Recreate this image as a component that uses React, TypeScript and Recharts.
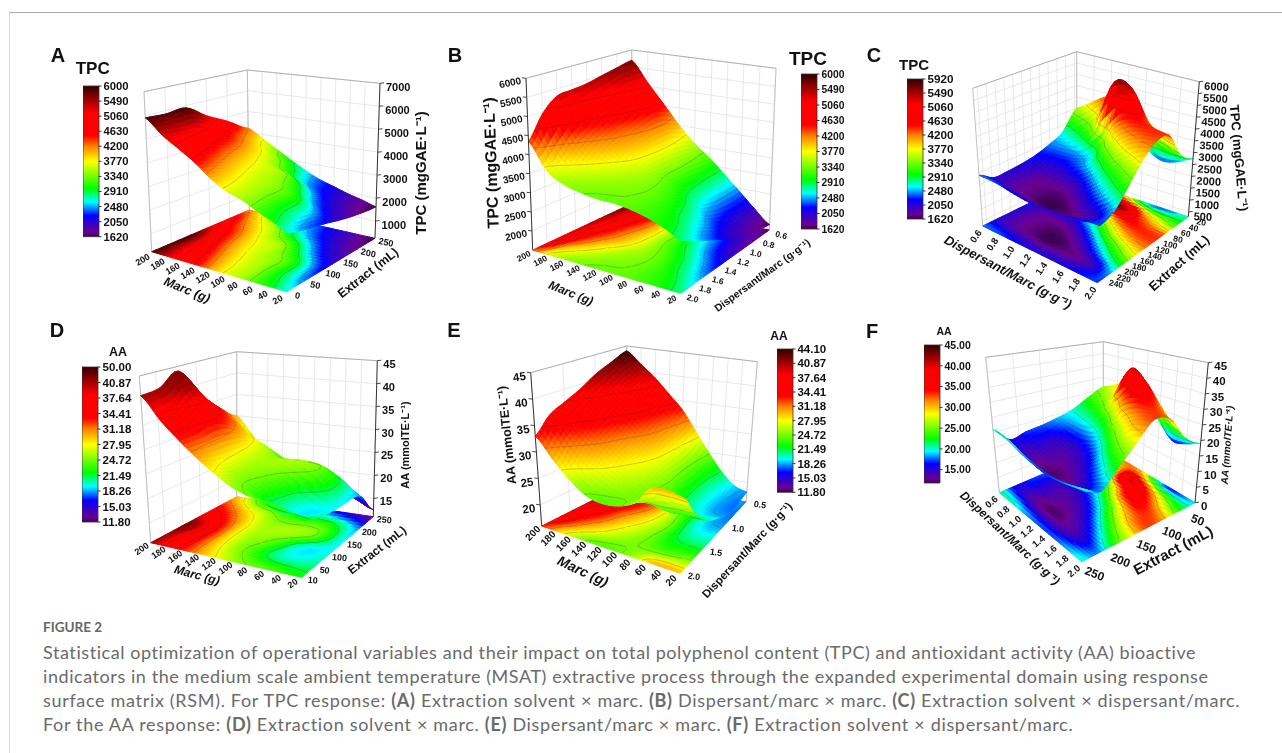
import { ScatterChart, Scatter, XAxis, YAxis, BarChart, Bar } from "recharts";

type Pt = [number, number];
type Box = { L: Pt; F: Pt; R: Pt; B: Pt; tL: Pt; tF: Pt; tR: Pt; tB: Pt };

// ---- values (rows run along Extract / Dispersant, columns along the first axis)
const surfaceA = [
  [5900, 5350, 4950, 4550, 4050, 3700, 3500, 3200, 2950, 2650],
  [5850, 5250, 4800, 4300, 3900, 3650, 3450, 3100, 2750, 2400],
  [5900, 5150, 4500, 4050, 3750, 3550, 3400, 3100, 2600, 2200],
  [5300, 4700, 4250, 3850, 3600, 3450, 3000, 2500, 2150, 1950],
  [4800, 4250, 3850, 3550, 3150, 2650, 2350, 2100, 1900, 1750],
  [4200, 3800, 3400, 3000, 2650, 2350, 2150, 1950, 1800, 1620],
];
const surfaceB = [
  [4350, 3700, 3450, 3350, 3300, 3300, 3250, 3150, 3000, 2800],
  [4950, 4050, 3700, 3500, 3400, 3350, 3250, 3100, 2900, 2600],
  [5300, 4450, 4000, 3700, 3500, 3400, 3250, 3000, 2700, 2400],
  [5350, 4650, 4250, 3950, 3650, 3400, 3150, 2850, 2500, 2200],
  [5400, 4850, 4400, 4050, 3700, 3300, 2950, 2600, 2250, 2000],
  [5500, 5000, 4550, 4150, 3700, 3300, 2850, 2450, 2100, 1850],
  [5600, 5150, 4700, 4150, 3650, 3250, 2800, 2400, 2000, 1750],
  [5700, 5100, 4550, 4000, 3550, 3200, 2800, 2400, 2000, 1650],
];
const surfaceC = [
  [2400, 2350, 2200, 2100, 2100, 2150, 2250, 2300],
  [2050, 1850, 1750, 1650, 1700, 1750, 2000, 2500],
  [2050, 1800, 1700, 1650, 1800, 2200, 2700, 3100],
  [2100, 1850, 1800, 1900, 2300, 2900, 3400, 3800],
  [2200, 2100, 2200, 2500, 3100, 3800, 4200, 4300],
  [2400, 2450, 2600, 3100, 4200, 4500, 4400, 4300],
  [2700, 3000, 3700, 5500, 5400, 4200, 3600, 3200],
  [3500, 4000, 4400, 4000, 2800, 2300, 2400, 2750],
];
const surfaceD = [
  [41, 36.5, 33, 30, 27.5, 25.5, 24.5, 24, 23, 22],
  [41.5, 37, 33, 29, 26, 24, 21.5, 20, 20, 20.5],
  [44, 39, 33.5, 28.5, 26, 25, 23, 20, 19, 19.5],
  [38, 35, 31.5, 28, 26, 26, 26, 25, 22, 19],
  [33.5, 31, 28, 26, 24, 23, 23, 22.5, 20.5, 18],
  [30, 26, 22, 20.5, 19.5, 18.5, 17, 15.5, 14, 12.5],
];
const surfaceE = [
  [33, 29.5, 26.5, 24.5, 24, 24.5, 26, 29.5, 30, 29.5],
  [36, 32.5, 29.5, 27.5, 26, 25, 24.5, 24, 24.5, 25],
  [37.5, 34.5, 32, 29.5, 27.5, 26, 24, 22, 21.5, 21.5],
  [39, 36.5, 33.5, 31, 29, 27, 24.5, 21, 19.5, 19.5],
  [41, 38, 35.5, 33, 30.5, 27.5, 24, 20.5, 18.5, 18],
  [42.5, 40, 37, 34, 31.5, 28, 24, 20.5, 18.5, 17.5],
  [44, 41.5, 39, 36, 33, 29, 25, 21.5, 19, 18],
];
const surfaceF = [
  [21, 20.5, 19, 18, 17.5, 18, 19, 20],
  [16, 14.5, 13, 12.5, 13, 14, 16, 18],
  [17, 15, 13.5, 13, 14, 16.5, 20, 23],
  [17.5, 15, 14, 15, 17.5, 22, 26, 28],
  [18.5, 17.5, 17.5, 19.5, 24, 29, 32, 33],
  [20, 21, 23, 27, 34, 35, 33, 31],
  [23, 25, 29, 40, 37, 31, 26, 23],
  [26, 29, 32, 29, 21, 16, 17, 19],
];

const levelsTPC = [1620, 2050, 2480, 2910, 3340, 3770, 4200, 4630, 5060, 5490, 6000];
const levelsTPCc = [1620, 2050, 2480, 2910, 3340, 3770, 4200, 4630, 5060, 5490, 5920];
const levelsAAd = [11.8, 15.03, 18.26, 21.49, 24.72, 27.95, 31.18, 34.41, 37.64, 40.87, 50];
const levelsAAe = [11.8, 15.03, 18.26, 21.49, 24.72, 27.95, 31.18, 34.41, 37.64, 40.87, 44.1];
const levelsAAf = [11.8, 45];
const contoursAAf = [15, 20, 25, 30, 35, 40];
const legendTicksF = [15, 20, 25, 30, 35, 40, 45];

const marcTicks = [200, 180, 160, 140, 120, 100, 80, 60, 40, 20];
const extractTicksA = [0, 50, 100, 150, 200, 250];
const extractTicksC = [240, 220, 200, 180, 160, 140, 120, 100, 80, 60, 40, 20];
const extractTicksD = [10, 50, 100, 150, 200, 250];
const extractTicksF = [250, 200, 150, 100, 50];
const dispersantTicks = [2.0, 1.8, 1.6, 1.4, 1.2, 1.0, 0.8, 0.6];
const dispersantTicksE = [2.0, 1.5, 1.0, 0.5];
const tpcTicksA = [1000, 2000, 3000, 4000, 5000, 6000, 7000];
const tpcTicksB = [2000, 2500, 3000, 3500, 4000, 4500, 5000, 5500, 6000];
const tpcTicksC = [500, 1000, 1500, 2000, 2500, 3000, 3500, 4000, 4500, 5000, 5500, 6000];
const aaTicksD = [15, 20, 25, 30, 35, 40, 45];
const aaTicksE = [20, 25, 30, 35, 40, 45];
const aaTicksF = [0, 5, 10, 15, 20, 25, 30, 35, 40, 45];

const captionLines = [
  "Statistical optimization of operational variables and their impact on total polyphenol content (TPC) and antioxidant activity (AA) bioactive",
  "indicators in the medium scale ambient temperature (MSAT) extractive process through the expanded experimental domain using response",
];

// ---- rainbow of the colour bars
const RAINBOW: [number, number[]][] = [
  [0, [58, 0, 80]],
  [0.03, [106, 0, 144]],
  [0.14, [0, 0, 255]],
  [0.23, [0, 255, 255]],
  [0.32, [0, 255, 0]],
  [0.5, [255, 255, 0]],
  [0.6, [255, 128, 0]],
  [0.67, [255, 0, 0]],
  [0.82, [255, 0, 0]],
  [0.92, [144, 0, 0]],
  [1, [48, 0, 0]],
];

const rainbow = (t: number) => {
  const x = Math.max(0, Math.min(1, t));
  for (let i = 1; i < RAINBOW.length; i++) {
    if (x <= RAINBOW[i][0]) {
      const [a, ca] = RAINBOW[i - 1];
      const [b, cb] = RAINBOW[i];
      const f = (x - a) / (b - a);
      return `rgb(${ca.map((c, k) => Math.round(c + (cb[k] - c) * f)).join(",")})`;
    }
  }
  return "rgb(48,0,0)";
};

const levelToT = (z: number, levels: number[]) => {
  if (z <= levels[0]) return 0;
  for (let i = 1; i < levels.length; i++) {
    if (z <= levels[i]) return (i - 1 + (z - levels[i - 1]) / (levels[i] - levels[i - 1])) / (levels.length - 1);
  }
  return 1;
};

const FONT = "'Liberation Sans', Arial, sans-serif";

type Label = { text: string; x: number; y: number; rot: number; size: number; italic?: boolean };

type Panel = {
  id: string;
  region: [number, number, number, number];
  box: Box;
  grid: number[][];
  levels: number[];
  contours: number[];
  zDomain: [number, number];
  zTicks: number[];
  zSide: "L" | "R";
  zLabel: { dx: number; dy: number; rot: number; size: number };
  uDomain: [number, number];
  uTicks: number[];
  uFmt: (v: number) => string;
  uLabel: { dx: number; dy: number; rot: number; size: number };
  vDomain: [number, number];
  vTicks: number[];
  vFmt: (v: number) => string;
  vLabel: { dx: number; dy: number; rot: number; size: number };
  labels: Label[];
  bar: { x: number; y: number; w: number; h: number; size: number; labels: string[]; values: number[]; domain: [number, number] };
};

const idx = levelsTPC.map((_, i) => i);
const int = (v: number) => String(v);
const one = (v: number) => v.toFixed(1);

const panels: Panel[] = [
  {
    id: "A",
    region: [40, 30, 400, 290],
    box: { L: [151.7, 251.7], F: [286.7, 291.7], R: [375, 238.3], B: [249.3, 210], tL: [144, 91.7], tF: [292, 128], tR: [380, 83.3], tB: [247.3, 70] },
    grid: surfaceA, levels: levelsTPC, contours: levelsTPC.slice(1, -1),
    zDomain: [250, 7000], zTicks: tpcTicksA, zSide: "R", zLabel: { dx: 6, dy: 4, rot: 0, size: 11 },
    uDomain: [200, 20], uTicks: marcTicks, uFmt: int, uLabel: { dx: -9, dy: 8, rot: -30, size: 9 },
    vDomain: [0, 250], vTicks: extractTicksA, vFmt: int, vLabel: { dx: 11, dy: 4, rot: 12, size: 9 },
    labels: [
      { text: "A", x: 58, y: 55, rot: 0, size: 20 },
      { text: "TPC", x: 92.7, y: 68, rot: 0, size: 17 },
      { text: "Marc (g)", x: 187, y: 290, rot: 22, size: 12.5, italic: true },
      { text: "Extract (mL)", x: 368, y: 273, rot: -38, size: 12.5 },
      { text: "TPC (mgGAE·L⁻¹)", x: 420, y: 173, rot: -90, size: 15 },
    ],
    bar: { x: 82.7, y: 86, w: 15.5, h: 150.7, size: 11.3, labels: levelsTPC.map(int), values: idx, domain: [0, 10] },
  },
  {
    id: "B",
    region: [440, 30, 420, 290],
    box: { L: [532.7, 250], F: [680.7, 293.3], R: [769.3, 230], B: [633, 203], tL: [526, 78.3], tF: [685, 113], tR: [776, 68.3], tB: [631.7, 50] },
    grid: surfaceB, levels: levelsTPC, contours: levelsTPC.slice(1, -1),
    zDomain: [1500, 6000], zTicks: tpcTicksB, zSide: "L", zLabel: { dx: -5, dy: 2, rot: -12, size: 10 },
    uDomain: [200, 20], uTicks: marcTicks, uFmt: int, uLabel: { dx: -9, dy: 6, rot: -28, size: 8.5 },
    vDomain: [2, 0.6], vTicks: dispersantTicks, vFmt: one, vLabel: { dx: 12, dy: 5, rot: 15, size: 8.5 },
    labels: [
      { text: "B", x: 455, y: 55, rot: 0, size: 20 },
      { text: "TPC", x: 808, y: 58, rot: 0, size: 19 },
      { text: "Marc (g)", x: 571, y: 293, rot: 22, size: 12, italic: true },
      { text: "Dispersant/Marc (g·g⁻¹)", x: 762, y: 275, rot: -36, size: 10.5 },
      { text: "TPC (mgGAE·L⁻¹)", x: 491, y: 163, rot: -92, size: 16 },
    ],
    bar: { x: 800.7, y: 74, w: 15.5, h: 155, size: 10.3, labels: levelsTPC.map(int), values: idx, domain: [0, 10] },
  },
  {
    id: "C",
    region: [860, 30, 420, 290],
    box: { L: [982.7, 226], F: [1097.3, 282.7], R: [1188.3, 216.7], B: [1076.7, 180], tL: [972.7, 88.3], tF: [1105, 120], tR: [1199.3, 81.7], tB: [1076.7, 51.7] },
    grid: surfaceC, levels: levelsTPCc, contours: levelsTPCc.slice(1, -1),
    zDomain: [300, 6000], zTicks: tpcTicksC, zSide: "R", zLabel: { dx: 5, dy: 4, rot: 3, size: 11 },
    uDomain: [0.6, 2], uTicks: [...dispersantTicks].reverse(), uFmt: one, uLabel: { dx: -7, dy: 10, rot: -55, size: 9.5 },
    vDomain: [250, 15], vTicks: extractTicksC, vFmt: int, vLabel: { dx: 15, dy: 4, rot: 12, size: 8.5 },
    labels: [
      { text: "C", x: 874, y: 55, rot: 0, size: 20 },
      { text: "TPC", x: 914, y: 64, rot: 0, size: 15 },
      { text: "Dispersant/Marc (g·g⁻¹)", x: 1008, y: 272, rot: 28, size: 13, italic: true },
      { text: "Extract (mL)", x: 1179, y: 263, rot: -42, size: 13 },
      { text: "TPC (mgGAE·L⁻¹)", x: 1239, y: 158, rot: 85, size: 13 },
    ],
    bar: { x: 906.7, y: 79, w: 15.5, h: 140, size: 11.7, labels: levelsTPCc.map(int), values: idx, domain: [0, 10] },
  },
  {
    id: "D",
    region: [40, 320, 400, 300],
    box: { L: [150.7, 542.7], F: [301.7, 577.3], R: [373.3, 516.7], B: [236.7, 496.7], tL: [139.3, 376], tF: [311, 403], tR: [377.3, 360.7], tB: [236.7, 351.7] },
    grid: surfaceD, levels: levelsAAd, contours: levelsAAd.slice(1, -1),
    zDomain: [11, 45], zTicks: aaTicksD, zSide: "R", zLabel: { dx: 6, dy: 3, rot: 0, size: 11 },
    uDomain: [200, 20], uTicks: marcTicks, uFmt: int, uLabel: { dx: -9, dy: 6, rot: -35, size: 9 },
    vDomain: [10, 250], vTicks: extractTicksD, vFmt: int, vLabel: { dx: 11, dy: 3, rot: 5, size: 9 },
    labels: [
      { text: "D", x: 57, y: 330, rot: 0, size: 20 },
      { text: "AA", x: 118, y: 352, rot: 0, size: 12.5 },
      { text: "Marc (g)", x: 197, y: 575, rot: 15, size: 12, italic: true },
      { text: "Extract (mL)", x: 377, y: 550, rot: -38, size: 12 },
      { text: "AA (mmolTE·L⁻¹)", x: 405, y: 445, rot: -90, size: 11 },
    ],
    bar: { x: 81.7, y: 367, w: 15.5, h: 155, size: 11.5, labels: ["11.80", "15.03", "18.26", "21.49", "24.72", "27.95", "31.18", "34.41", "37.64", "40.87", "50.00"], values: idx, domain: [0, 10] },
  },
  {
    id: "E",
    region: [440, 320, 420, 300],
    box: { L: [541.7, 526], F: [680, 573.3], R: [746, 501.7], B: [626.7, 483.3], tL: [530.7, 372.7], tF: [688, 411.7], tR: [757.3, 361.7], tB: [626.7, 346] },
    grid: surfaceE, levels: levelsAAe, contours: levelsAAe.slice(1, -1),
    zDomain: [16, 45], zTicks: aaTicksE, zSide: "L", zLabel: { dx: -5, dy: 3, rot: -8, size: 11.5 },
    uDomain: [200, 20], uTicks: marcTicks, uFmt: int, uLabel: { dx: -9, dy: 7, rot: -45, size: 10 },
    vDomain: [2, 0.5], vTicks: dispersantTicksE, vFmt: one, vLabel: { dx: 14, dy: 3, rot: 8, size: 9 },
    labels: [
      { text: "E", x: 454, y: 330, rot: 0, size: 20 },
      { text: "AA", x: 779, y: 336, rot: 0, size: 12 },
      { text: "Marc (g)", x: 583, y: 571, rot: 25, size: 14, italic: true },
      { text: "Dispersant/Marc (g·g⁻¹)", x: 747, y: 550, rot: -47, size: 11.5 },
      { text: "AA (mmolTE·L⁻¹)", x: 507, y: 435, rot: -96, size: 12.5 },
    ],
    bar: { x: 776.7, y: 348.7, w: 15.5, h: 143.3, size: 11.5, labels: levelsAAe.map((v) => v.toFixed(2)), values: idx, domain: [0, 10] },
  },
  {
    id: "F",
    region: [860, 320, 420, 300],
    box: { L: [999.3, 492.7], F: [1081.7, 561.7], R: [1195, 502.7], B: [1103.3, 448.3], tL: [985.7, 357.3], tF: [1090, 403], tR: [1208.3, 362.7], tB: [1103.3, 341.7] },
    grid: surfaceF, levels: levelsAAf, contours: contoursAAf,
    zDomain: [0, 45], zTicks: aaTicksF, zSide: "R", zLabel: { dx: 6, dy: 3, rot: 0, size: 11.5 },
    uDomain: [0.6, 2], uTicks: [...dispersantTicks].reverse(), uFmt: one, uLabel: { dx: -8, dy: 9, rot: -40, size: 9.5 },
    vDomain: [250, 30], vTicks: extractTicksF, vFmt: int, vLabel: { dx: 13, dy: 12, rot: 22, size: 12 },
    labels: [
      { text: "F", x: 872, y: 331, rot: 0, size: 20 },
      { text: "AA", x: 944, y: 331, rot: 0, size: 10.5 },
      { text: "Dispersant/Marc (g·g⁻¹)", x: 1010, y: 538, rot: 43, size: 12, italic: true },
      { text: "Extract (mL)", x: 1173, y: 550, rot: -28, size: 15 },
      { text: "AA (mmolTE·L⁻¹)", x: 1227, y: 445, rot: -86, size: 10, italic: true },
    ],
    bar: { x: 924, y: 345, w: 15.5, h: 138, size: 10.5, labels: legendTicksF.map((v) => v.toFixed(2)), values: legendTicksF, domain: [11.8, 45] },
  },
];

// ---- projection of the 3D box on the page
const project = (b: Box, u: number, v: number, w: number): Pt => {
  const bl = (a: Pt, c: Pt, d: Pt, e: Pt, k: number) =>
    (1 - u) * (1 - v) * a[k] + u * (1 - v) * c[k] + (1 - u) * v * d[k] + u * v * e[k];
  const px = bl(b.L, b.F, b.B, b.R, 0) * (1 - w) + bl(b.tL, b.tF, b.tB, b.tR, 0) * w;
  const py = bl(b.L, b.F, b.B, b.R, 1) * (1 - w) + bl(b.tL, b.tF, b.tB, b.tR, 1) * w;
  return [px, py];
};

const spline = (a: number, b: number, c: number, d: number, t: number) =>
  b + 0.5 * t * (c - a + t * (2 * a - 5 * b + 4 * c - d + t * (3 * (b - c) + d - a)));

const sample = (g: number[][], U: number, V: number) => {
  const rows = g.length, cols = g[0].length;
  const r0 = Math.min(Math.floor(V), rows - 2), c0 = Math.min(Math.floor(U), cols - 2);
  const tv = V - r0, tu = U - c0;
  const rowAt = (r: number) => {
    const row = g[Math.max(0, Math.min(rows - 1, r))];
    const at = (c: number) => row[Math.max(0, Math.min(cols - 1, c))];
    return spline(at(c0 - 1), at(c0), at(c0 + 1), at(c0 + 2), tu);
  };
  return spline(rowAt(r0 - 1), rowAt(r0), rowAt(r0 + 1), rowAt(r0 + 2), tv);
};

const SUB = 5;

const CellShape = ({ cx, cy, payload, panel, flat }: any) => {
  const { row, col, sx, sy } = payload;
  const g = panel.grid;
  const rows = g.length - 1, cols = g[0].length - 1;
  const [z0, z1] = panel.zDomain;
  const node = (a: number, b: number) => {
    const U = col + a / SUB, V = row + b / SUB;
    const z = sample(g, U, V);
    const p = project(panel.box, U / cols, V / rows, flat ? 0 : (z - z0) / (z1 - z0));
    return { z, x: p[0] - sx + cx, y: p[1] - sy + cy };
  };
  const polys = [];
  let contour = "";
  for (let b = SUB - 1; b >= 0; b--) {
    for (let a = 0; a < SUB; a++) {
      const q = [node(a, b), node(a + 1, b), node(a + 1, b + 1), node(a, b + 1)];
      const c = rainbow(levelToT((q[0].z + q[1].z + q[2].z + q[3].z) / 4, panel.levels));
      polys.push(
        <polygon key={`${a}-${b}`} points={q.map((n) => `${n.x.toFixed(1)},${n.y.toFixed(1)}`).join(" ")} fill={c} stroke={c} strokeWidth={1} />
      );
      for (const lv of panel.contours) {
        const hits: string[] = [];
        for (let k = 0; k < 4; k++) {
          const s = q[k], e = q[(k + 1) % 4];
          if ((s.z - lv) * (e.z - lv) < 0) {
            const f = (lv - s.z) / (e.z - s.z);
            hits.push(`${(s.x + (e.x - s.x) * f).toFixed(1)} ${(s.y + (e.y - s.y) * f).toFixed(1)}`);
          }
        }
        if (hits.length >= 2) contour += `M${hits[0]}L${hits[1]}`;
      }
    }
  }
  return (
    <g>
      {polys}
      <path d={contour} fill="none" stroke="#333" strokeOpacity={0.55} strokeWidth={0.5} />
    </g>
  );
};

const SegmentShape = ({ cx, cy, payload }: any) => (
  <line x1={cx} y1={cy} x2={cx + payload.ex - payload.sx} y2={cy + payload.ey - payload.sy} stroke={payload.color} strokeWidth={payload.width} />
);

const TextShape = ({ cx, cy, payload }: any) => (
  <text
    x={cx}
    y={cy}
    textAnchor={payload.anchor || "middle"}
    dominantBaseline="central"
    fontFamily={FONT}
    fontWeight="bold"
    fontStyle={payload.italic ? "italic" : "normal"}
    fontSize={payload.size}
    fill="#111"
    transform={`rotate(${payload.rot} ${cx} ${cy})`}
  >
    {payload.text}
  </text>
);

const cellData = (p: Panel) => {
  const rows = p.grid.length - 1, cols = p.grid[0].length - 1;
  const out: any[] = [];
  for (let row = rows - 1; row >= 0; row--) {
    for (let col = 0; col < cols; col++) {
      const [sx, sy] = project(p.box, (col + 0.5) / cols, (row + 0.5) / rows, 0);
      out.push({ sx, sy, row, col });
    }
  }
  return out;
};

const frac = (v: number, d: [number, number]) => (v - d[0]) / (d[1] - d[0]);

const wallData = (p: Panel) => {
  const b = p.box;
  const seg = (a: Pt, e: Pt, color: string, width: number) => ({ sx: a[0], sy: a[1], ex: e[0], ey: e[1], color, width });
  const out: any[] = [];
  const grid = "#dedede";
  p.zTicks.forEach((t) => {
    const w = frac(t, p.zDomain);
    out.push(seg(project(b, 0, 0, w), project(b, 0, 1, w), grid, 0.7));
    out.push(seg(project(b, 0, 1, w), project(b, 1, 1, w), grid, 0.7));
  });
  p.uTicks.forEach((t) => {
    const u = frac(t, p.uDomain);
    out.push(seg(project(b, u, 1, 0), project(b, u, 1, 1), grid, 0.7));
  });
  p.vTicks.forEach((t) => {
    const v = frac(t, p.vDomain);
    out.push(seg(project(b, 0, v, 0), project(b, 0, v, 1), grid, 0.7));
  });
  out.push(seg(b.tL, b.tB, "#aaa", 0.9));
  out.push(seg(b.tB, b.tR, "#aaa", 0.9));
  out.push(seg(b.B, b.tB, "#bbb", 0.9));
  out.push(seg(p.zSide === "L" ? b.R : b.L, p.zSide === "L" ? b.tR : b.tL, "#bbb", 0.9));
  return out;
};

const axisData = (p: Panel) => {
  const b = p.box;
  const foot = p.zSide === "L" ? b.L : b.R;
  const head = p.zSide === "L" ? b.tL : b.tR;
  const dir = p.zSide === "L" ? -1 : 1;
  const out: any[] = [{ sx: foot[0], sy: foot[1], ex: head[0], ey: head[1], color: "#333", width: 1 }];
  p.zTicks.forEach((t) => {
    const a = project(b, p.zSide === "L" ? 0 : 1, p.zSide === "L" ? 0 : 1, frac(t, p.zDomain));
    out.push({ sx: a[0], sy: a[1], ex: a[0] + 4 * dir, ey: a[1] - 0.5, color: "#333", width: 0.9 });
  });
  return out;
};

const textData = (p: Panel) => {
  const b = p.box;
  const out: any[] = [];
  const dir = p.zSide === "L" ? "end" : "start";
  p.zTicks.forEach((t) => {
    const a = project(b, p.zSide === "L" ? 0 : 1, p.zSide === "L" ? 0 : 1, frac(t, p.zDomain));
    out.push({ sx: a[0] + p.zLabel.dx, sy: a[1] + p.zLabel.dy, text: int(t), rot: p.zLabel.rot, size: p.zLabel.size, anchor: dir });
  });
  p.uTicks.forEach((t) => {
    const a = project(b, frac(t, p.uDomain), 0, 0);
    out.push({ sx: a[0] + p.uLabel.dx, sy: a[1] + p.uLabel.dy, text: p.uFmt(t), rot: p.uLabel.rot, size: p.uLabel.size });
  });
  p.vTicks.forEach((t) => {
    const a = project(b, 1, frac(t, p.vDomain), 0);
    out.push({ sx: a[0] + p.vLabel.dx, sy: a[1] + p.vLabel.dy, text: p.vFmt(t), rot: p.vLabel.rot, size: p.vLabel.size });
  });
  p.labels.forEach((l) => out.push({ sx: l.x, sy: l.y, text: l.text, rot: l.rot, size: l.size, italic: l.italic }));
  return out;
};

const Surface3D = ({ panel }: { panel: Panel }) => {
  const [x, y, w, h] = panel.region;
  const cells = cellData(panel);
  return (
    <div style={{ position: "absolute", left: x, top: y, width: w, height: h, filter: "blur(0.35px)" }}>
      <ScatterChart width={w} height={h} margin={{ top: 0, right: 0, bottom: 0, left: 0 }}>
        <XAxis type="number" dataKey="sx" domain={[x, x + w]} hide />
        <YAxis type="number" dataKey="sy" domain={[y, y + h]} reversed hide />
        <Scatter data={wallData(panel)} shape={SegmentShape} isAnimationActive={false} />
        <Scatter data={cells} shape={(s: any) => <CellShape {...s} panel={panel} flat />} isAnimationActive={false} />
        <Scatter data={cells} shape={(s: any) => <CellShape {...s} panel={panel} />} isAnimationActive={false} />
        <Scatter data={axisData(panel)} shape={SegmentShape} isAnimationActive={false} />
        <Scatter data={textData(panel)} shape={TextShape} isAnimationActive={false} />
      </ScatterChart>
    </div>
  );
};

const ColorBar = ({ panel }: { panel: Panel }) => {
  const { x, y, w, h, size, labels, values, domain } = panel.bar;
  const gid = `bar-${panel.id}`;
  const stops = RAINBOW.map(([t, c]) => ({ t, c: `rgb(${c.join(",")})` }));
  return (
    <div style={{ position: "absolute", left: x, top: y - 8, width: w + 50, height: h + 16, filter: "blur(0.3px)" }}>
      <BarChart width={w + 50} height={h + 16} data={[{ top: domain[1] }]} margin={{ top: 8, right: 0, bottom: 8, left: 0 }} barCategoryGap={0}>
        <defs>
          <linearGradient id={gid} x1="0" y1="1" x2="0" y2="0">
            {stops.map((s) => (
              <stop key={s.t} offset={s.t} stopColor={s.c} />
            ))}
          </linearGradient>
        </defs>
        <XAxis hide dataKey={() => "bar"} />
        <YAxis
          orientation="right"
          type="number"
          width={50}
          domain={domain}
          ticks={values}
          interval={0}
          axisLine={false}
          tickSize={3}
          tickMargin={2}
          tickLine={{ stroke: "#333" }}
          tickFormatter={(v: number) => labels[values.indexOf(v)]}
          tick={{ fontFamily: FONT, fontWeight: "bold", fontSize: size, fill: "#111" }}
        />
        <Bar dataKey="top" fill={`url(#${gid})`} stroke="#333" strokeWidth={0.8} isAnimationActive={false} />
      </BarChart>
    </div>
  );
};

const capStyle: any = {
  position: "absolute",
  left: 43,
  whiteSpace: "nowrap",
  fontFamily: "Lato, sans-serif",
  fontSize: 18,
  letterSpacing: 0.57,
  color: "#6a6a6a",
  lineHeight: "24px",
};

export default function App() {
  return (
    <div style={{ position: "absolute", left: 0, top: 0, width: 1282, height: 753, overflow: "hidden", background: "#fff" }}>
      <div style={{ position: "absolute", left: 9, top: 12, width: 1273, height: 741, borderTop: "1px solid #aaa", borderLeft: "1px solid #d8d8d8" }} />
      {panels.map((p) => (
        <Surface3D key={p.id} panel={p} />
      ))}
      {panels.map((p) => (
        <ColorBar key={p.id} panel={p} />
      ))}
      <div style={{ ...capStyle, top: 615, fontSize: 13.5, fontWeight: 700, letterSpacing: 0, color: "#666" }}>FIGURE 2</div>
      <div style={{ ...capStyle, top: 640 }}>{captionLines[0]}</div>
      <div style={{ ...capStyle, top: 664 }}>{captionLines[1]}</div>
      <div style={{ ...capStyle, top: 688, letterSpacing: 0.68 }}>
        surface matrix (RSM). For TPC response: <b>(A)</b> Extraction solvent × marc. <b>(B)</b> Dispersant/marc × marc. <b>(C)</b> Extraction solvent × dispersant/marc.
      </div>
      <div style={{ ...capStyle, top: 712, letterSpacing: 0.68 }}>
        For the AA response: <b>(D)</b> Extraction solvent × marc. <b>(E)</b> Dispersant/marc × marc. <b>(F)</b> Extraction solvent × dispersant/marc.
      </div>
    </div>
  );
}
